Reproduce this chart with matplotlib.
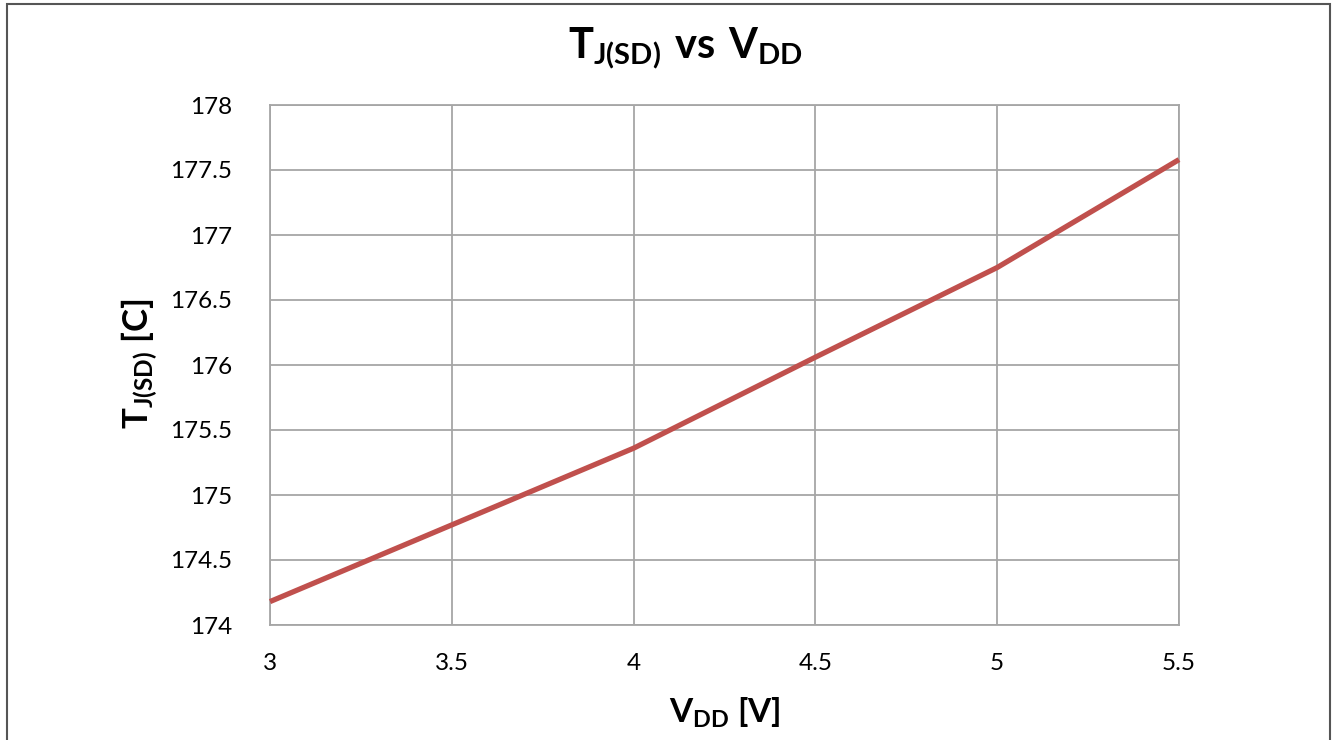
import matplotlib
matplotlib.use("Agg")
import matplotlib.pyplot as plt
from matplotlib.patches import Rectangle

# data
vdd = [3.0, 3.5, 4.0, 4.5, 5.0, 5.5]
tj_sd = [174.18, 174.77, 175.36, 176.06, 176.75, 177.58]
x_ticks = [3, 3.5, 4, 4.5, 5, 5.5]
x_ticklabels = ["3", "3.5", "4", "4.5", "5", "5.5"]
y_ticks = [174, 174.5, 175, 175.5, 176, 176.5, 177, 177.5, 178]
y_ticklabels = ["174", "174.5", "175", "175.5", "176", "176.5", "177", "177.5", "178"]

plt.rcParams["font.family"] = ["Lato", "DejaVu Sans"]
plt.rcParams["mathtext.fontset"] = "custom"
plt.rcParams["mathtext.rm"] = "Lato"
plt.rcParams["mathtext.bf"] = "Lato:bold"

W, H = 1333, 740
fig = plt.figure(figsize=(W / 100, H / 100), dpi=100)
ax = fig.add_axes([270 / W, 1 - 625 / H, (1179 - 270) / W, (625 - 105) / H])

grid_c = "#a6a6a6"
ax.plot(vdd, tj_sd, color="#c0504d", lw=3.8, solid_capstyle="butt", zorder=3, clip_on=False)

ax.set_xlim(3, 5.5)
ax.set_ylim(174, 178)
ax.set_xticks(x_ticks)
ax.set_xticklabels(x_ticklabels)
ax.set_yticks(y_ticks)
ax.set_yticklabels(y_ticklabels)
ax.tick_params(axis="both", length=0, labelsize=17.5, colors="black")
ax.tick_params(axis="x", pad=20)
ax.tick_params(axis="y", pad=27)
ax.grid(True, color=grid_c, lw=1.3)
ax.set_axisbelow(True)
for s in ax.spines.values():
    s.set_color(grid_c)
    s.set_linewidth(1.3)

fig.text(685 / W, 1 - 48 / H, r"$\mathbf{T_{J(SD)}\ vs\ V_{DD}}$", ha="center", va="center", fontsize=30)
fig.text(725 / W, 1 - 713 / H, r"$\mathbf{V_{DD}}$ [V]", ha="center", va="center",
         fontsize=24, fontweight="bold")
fig.text(140 / W, 1 - 364 / H, r"$\mathbf{T_{J(SD)}}$ [C]", ha="center", va="center",
         fontsize=25, fontweight="bold", rotation=90)

# outer chart border
fig.patches.append(Rectangle((7 / W, -0.05), (1330 - 7) / W, 1.05 - 4 / H, transform=fig.transFigure,
                             fill=False, edgecolor="#555555", lw=1.5))

fig.savefig("out.png", dpi=100, facecolor="white")
